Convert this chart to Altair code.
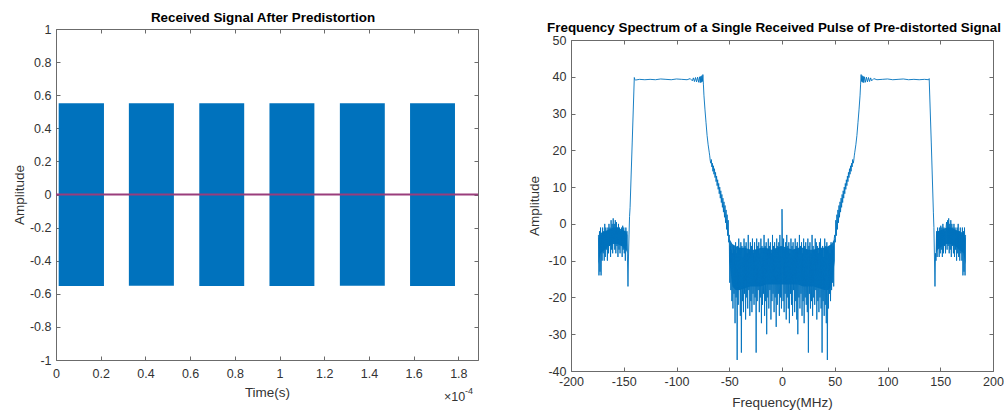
import altair as alt
import pandas as pd

FONT = "Liberation Sans, Arial, sans-serif"
BLUE = "#0072BD"
AX = "#6b6b6b"
LABEL = "#333333"

# ---------------- Left panel: received signal (time in units of 1e-4 s) ----------------
burst_start = [0.012, 0.326, 0.641, 0.955, 1.270, 1.584]
burst_end = [0.2146, 0.5275, 0.842, 1.156, 1.471, 1.785]
burst_top = [0.552, 0.551, 0.551, 0.552, 0.551, 0.552]
burst_bottom = [-0.553, -0.552, -0.553, -0.553, -0.552, -0.553]
zero_level = [0.0]

time_ticks = [0, 0.2, 0.4, 0.6, 0.8, 1, 1.2, 1.4, 1.6, 1.8]
amp_ticks = [-1, -0.8, -0.6, -0.4, -0.2, 0, 0.2, 0.4, 0.6, 0.8, 1]
time_domain = [0, 1.888]
amp_domain = [-1, 1]

# ---------------- Right panel: spectrum (MHz) ----------------
sb_left = [-3, -14, -2, -13, -1, -14, -3, -10, -1, -8,
           -2, -10, 0, -9, -1, -7, -2, -10, -1, -8,
           0, -6, -1, -9, 1, -7, 0, -8, 1.5, -5,
           0, -7, 1, -8, 0.5, -6, -1, -9, 0, -7,
           -1, -8, -2, -6, -1, -9, -0.5, -7, -1, -8,
           -2, -10, -1, -6, -2, -9]
trans_left_f = [-146, -145.5, -145, -144.5, -144, -142, -140]
trans_left_a = [-17, -9, -3, 2, 4.5, 22, 39.8]
flat_left_f = [-139.5, -139, -135, -130, -125, -120, -115, -110, -105, -100, -95, -90,
               -87, -85, -84, -83, -82, -81, -80, -79, -78, -77.5, -77, -76.5, -76, -75.5, -75]
flat_left_a = [39.3, 39.1, 39.3, 39.2, 39.3, 39.2, 39.4, 39.3, 39.2, 39.4, 39.3, 39.2,
               39.5, 38.9, 39.7, 38.7, 39.8, 38.6, 39.9, 38.5, 40.0, 38.4, 40.1, 38.5, 40.3, 38.7, 40.6]
desc_left_f = [-74.5, -74, -73, -72, -71, -70, -69, -68.5]
desc_left_a = [38, 35, 31, 27.5, 24, 21.5, 19.5, 18.5]
band_left = [17.2, 16.5, 17.5, 15.5, 16.5, 14.3, 15.8, 13.5, 15, 12.6,
             14, 11.5, 13, 10.4, 12, 9.4, 11, 8.2, 10, 7,
             9, 5.8, 8, 4.5, 7, 3.2, 6, 1.8, 5, 0.3,
             3.8, -1.5, 2.5, -3.2, 1, -5]
noise_left = [-3, -16, -6, -18, -7, -21, -8, -23, -6, -19,
              -7, -27, -5, -20, -8, -37, -6, -22, -4, -18,
              -7, -25, -5, -35, -6, -21, -9, -24, -4, -19,
              -6, -26, -5, -20, -8, -23, -3, -18, -7, -25,
              -5, -21, -6, -24, -4, -19, -8, -22, -5, -20,
              -7, -35, -4, -21, -6, -18, -5, -24, -8, -20,
              -4, -27, -6, -22, -7, -19, -3, -25, -6, -21,
              -5, -30, -7, -20, -4, -23, -6, -18, -5, -26,
              -8, -21, -3, -19, -6, -24, -5, -20, -7, -28,
              -4, -22, -6, -19, -5, -25, -3, -20, -6, -23]
center_f = [0]
center_a = [4]
noise_right = [-6, -21, -4, -24, -7, -19, -5, -26, -3, -20,
               -6, -23, -5, -27, -8, -19, -4, -22, -6, -25,
               -5, -18, -7, -24, -4, -21, -6, -26, -5, -30,
               -7, -20, -3, -23, -6, -19, -5, -25, -8, -21,
               -4, -27, -6, -20, -5, -22, -7, -24, -4, -35,
               -6, -19, -5, -23, -8, -21, -3, -25, -6, -20,
               -7, -22, -4, -18, -5, -26, -6, -21, -8, -24,
               -5, -20, -4, -23, -7, -35, -6, -21, -9, -25,
               -4, -22, -6, -27, -5, -37, -7, -23, -6, -19,
               -8, -21, -5, -18, -7, -16, -6, -17, -4, -3]
band_right = [-5, 1, -3.2, 2.5, -1.5, 3.8, 0.3, 5, 1.8, 6,
              3.2, 7, 4.5, 8, 5.8, 9, 7, 10, 8.2, 11,
              9.4, 12, 10.4, 13, 11.5, 14, 12.6, 15, 13.5, 15.8,
              14.3, 16.5, 15.5, 17.5, 16.5, 17.2]
asc_right_f = [68.5, 69, 70, 71, 72, 73, 74, 74.5]
asc_right_a = [18.5, 19.5, 21.5, 24, 27.5, 31, 35, 38]
flat_right_f = [75, 75.5, 76, 76.5, 77, 77.5, 78, 79, 80, 81, 82, 83, 84, 85, 87, 90,
                95, 100, 105, 110, 115, 120, 125, 130, 135, 139]
flat_right_a = [40.6, 38.7, 40.3, 38.5, 40.1, 38.4, 40.0, 38.5, 39.9, 38.6, 39.8, 38.7, 39.7, 38.9, 39.5, 39.2,
                39.3, 39.4, 39.2, 39.3, 39.4, 39.2, 39.3, 39.2, 39.3, 39.2]
trans_right_f = [139.5, 141.5, 143.5, 144, 144.5, 145, 145.5]
trans_right_a = [39.5, 22, 3, -1, -9, -17, -8]
sb_right = [-10, -2, -9, -1, -6, -2, -9, -1, -8, -0.5,
            -7, -1, -9, 0, -8, -1, -6, -2, -8, -1,
            0.5, -7, 1, -6, 1.5, -8, 0, -7, 1, -9,
            0, -6, -1, -8, 0, -9, -1, -7, -2, -10,
            -1, -8, 0, -9, -2, -10, -1, -8, -3, -10,
            -1, -14, -2, -13, -1, -14, -3]

# dense (solid-looking) cores of the noisy regions: upper / lower edges
core_mid_f = [-50, -47, -44, -40, -35, -30, -25, -20, -15, -10, -5, 0, 5, 10, 15, 20, 25, 30, 35, 40, 44, 47, 50]
core_mid_hi = [-4, -5.5, -6, -6.5, -6.5, -7, -7, -6.5, -6.5, -7, -6.5, -6, -6.5, -7, -6.5, -6.5, -7, -7, -6.5, -6.5, -6, -5.5, -4]
core_mid_lo = [-10, -17, -18, -18, -17.5, -17, -17, -17, -16.5, -16.5, -16.5, -16.5, -16.5, -16.5, -16.5, -17, -17, -17, -17.5, -18, -18, -17, -10]
core_sbl_f = [-174, -172, -168, -164, -160, -156, -152, -148, -146.5]
core_sbl_hi = [-4, -2.5, -2, -1.5, -1, -1, -1.5, -2, -3]
core_sbl_lo = [-11, -8, -7, -6, -5.5, -5.5, -6, -7, -8]
core_sbr_f = [146, 147.5, 152, 156, 160, 164, 168, 172, 174]
core_sbr_hi = [-3, -2, -1.5, -1, -1, -1.5, -2, -2.5, -4]
core_sbr_lo = [-8, -7, -6, -5.5, -5.5, -6, -7, -8, -11]

freq_ticks = [-200, -150, -100, -50, 0, 50, 100, 150, 200]
spec_ticks = [-40, -30, -20, -10, 0, 10, 20, 30, 40, 50]
freq_domain = [-200, 200]
spec_domain = [-40, 50]

LEFT_TITLE = "Received Signal After Predistortion"
RIGHT_TITLE = "Frequency Spectrum of a Single Received Pulse of Pre-distorted Signal"


def grid(start, values):
    # 0.5 MHz frequency bins of the densely sampled parts
    return [start + 0.5 * i for i in range(len(values))]


spec_f = (grid(-174, sb_left) + trans_left_f + flat_left_f + desc_left_f + grid(-68, band_left)
          + grid(-50, noise_left) + center_f + grid(0.5, noise_right) + grid(50.5, band_right)
          + asc_right_f + flat_right_f + trans_right_f + grid(146, sb_right))
spec_a = (sb_left + trans_left_a + flat_left_a + desc_left_a + band_left + noise_left + center_a
          + noise_right + band_right + asc_right_a + flat_right_a + trans_right_a + sb_right)

burst_df = pd.DataFrame({"t0": burst_start, "t1": burst_end, "top": burst_top, "bot": burst_bottom})
zero_df = pd.DataFrame({"v": zero_level})
spec_df = pd.DataFrame({"f": spec_f, "a": spec_a})
core_df = pd.concat([
    pd.DataFrame({"f": core_sbl_f, "hi": core_sbl_hi, "lo": core_sbl_lo, "g": "sbl"}),
    pd.DataFrame({"f": core_mid_f, "hi": core_mid_hi, "lo": core_mid_lo, "g": "mid"}),
    pd.DataFrame({"f": core_sbr_f, "hi": core_sbr_hi, "lo": core_sbr_lo, "g": "sbr"}),
], ignore_index=True)
one_df = pd.DataFrame({"x": [0]})


def label_axis(orient, values, title, label_pad, title_pad):
    return alt.Axis(orient=orient, values=values, labelExpr="'' + datum.value", labelFlush=False,
                    labelOverlap=False, ticks=False, tickSize=0, domain=False, grid=False,
                    labelPadding=label_pad, labelFontSize=12.5, labelColor=LABEL, labelFont=FONT,
                    title=title, titlePadding=title_pad, titleFontSize=13.5, titleColor=LABEL,
                    titleFont=FONT, titleFontWeight="normal")


def tick_axis(orient, values):
    return alt.Axis(orient=orient, values=values, labels=False, domain=False, grid=False, ticks=True,
                    tickSize=4, tickColor=AX, tickWidth=1, offset=-4, title=None,
                    minExtent=0, maxExtent=0)


def tick_layers(xs, ys, xvals, yvals, xdom, ydom):
    df = pd.DataFrame({"x": [xdom[0]], "y": [ydom[0]]})
    a = alt.Chart(df).mark_point(opacity=0).encode(
        x=alt.X("x:Q", scale=xs, axis=tick_axis("bottom", xvals)),
        y=alt.Y("y:Q", scale=ys, axis=tick_axis("left", yvals)))
    b = alt.Chart(df).mark_point(opacity=0).encode(
        x=alt.X("x:Q", scale=xs, axis=tick_axis("top", xvals)),
        y=alt.Y("y:Q", scale=ys, axis=tick_axis("right", yvals)))
    return [a, b]


def title_block(text, height, baseline_y, dx):
    return alt.Chart(one_df).mark_text(
        text=text, fontSize=13.4, fontWeight="bold", font=FONT, color="black",
        align="center", baseline="alphabetic"
    ).encode(x=alt.value(211 + dx), y=alt.value(baseline_y)).properties(
        width=422, height=height, view=alt.ViewBackground(stroke="transparent"))


# ---------- left chart ----------
xs_l = alt.Scale(domain=time_domain, nice=False, zero=False)
ys_l = alt.Scale(domain=amp_domain, nice=False, zero=False)

bursts = alt.Chart(burst_df).mark_rect(color=BLUE).encode(
    x=alt.X("t0:Q", scale=xs_l, axis=label_axis("bottom", time_ticks, "Time(s)", 7, 6)),
    x2="t1:Q",
    y=alt.Y("top:Q", scale=ys_l, axis=label_axis("left", amp_ticks, "Amplitude", 5, 3)),
    y2="bot:Q",
)
zero_line = alt.Chart(zero_df).mark_rule(color="#9A3D7C", strokeWidth=2).encode(
    y=alt.Y("v:Q", scale=ys_l, axis=None))
exp_base = alt.Chart(one_df).mark_text(text="×10", align="left", baseline="middle", fontSize=12.5,
                                       color=LABEL, font=FONT).encode(x=alt.value(388), y=alt.value(368))
exp_pow = alt.Chart(one_df).mark_text(text="-4", align="left", baseline="middle", fontSize=9,
                                      color=LABEL, font=FONT).encode(x=alt.value(409), y=alt.value(362))

left = alt.layer(bursts, zero_line, *tick_layers(xs_l, ys_l, time_ticks, amp_ticks, time_domain, amp_domain),
                 exp_base, exp_pow).resolve_axis(x="independent", y="independent").properties(width=422, height=331)

# ---------- right chart ----------
xs_r = alt.Scale(domain=freq_domain, nice=False, zero=False)
ys_r = alt.Scale(domain=spec_domain, nice=False, zero=False)

spec_line = alt.Chart(spec_df).mark_line(color=BLUE, strokeWidth=0.9).encode(
    x=alt.X("f:Q", scale=xs_r, axis=label_axis("bottom", freq_ticks, "Frequency(MHz)", 4, 8)),
    y=alt.Y("a:Q", scale=ys_r, axis=label_axis("left", spec_ticks, "Amplitude", 5, 6)),
)
core = alt.Chart(core_df).mark_area(color=BLUE, opacity=0.95).encode(
    x=alt.X("f:Q", scale=xs_r, axis=None),
    y=alt.Y("hi:Q", scale=ys_r, axis=None),
    y2="lo:Q",
    detail="g:N",
)

right = alt.layer(core, spec_line, *tick_layers(xs_r, ys_r, freq_ticks, spec_ticks, freq_domain, spec_domain)
                  ).resolve_axis(x="independent", y="independent").properties(width=422, height=331)

left_col = alt.vconcat(title_block(LEFT_TITLE, 23, 16, -4), left, spacing=0, bounds="flush")
right_col = alt.vconcat(title_block(RIGHT_TITLE, 34, 26, -8), right, spacing=0, bounds="flush")

chart = alt.hconcat(left_col, right_col, spacing=47).properties(
    padding={"left": 11, "top": 5, "right": 0, "bottom": 0}
).configure_view(stroke=AX, strokeWidth=1)

chart.save("out.html", embed_options={"renderer": "svg", "actions": False})
